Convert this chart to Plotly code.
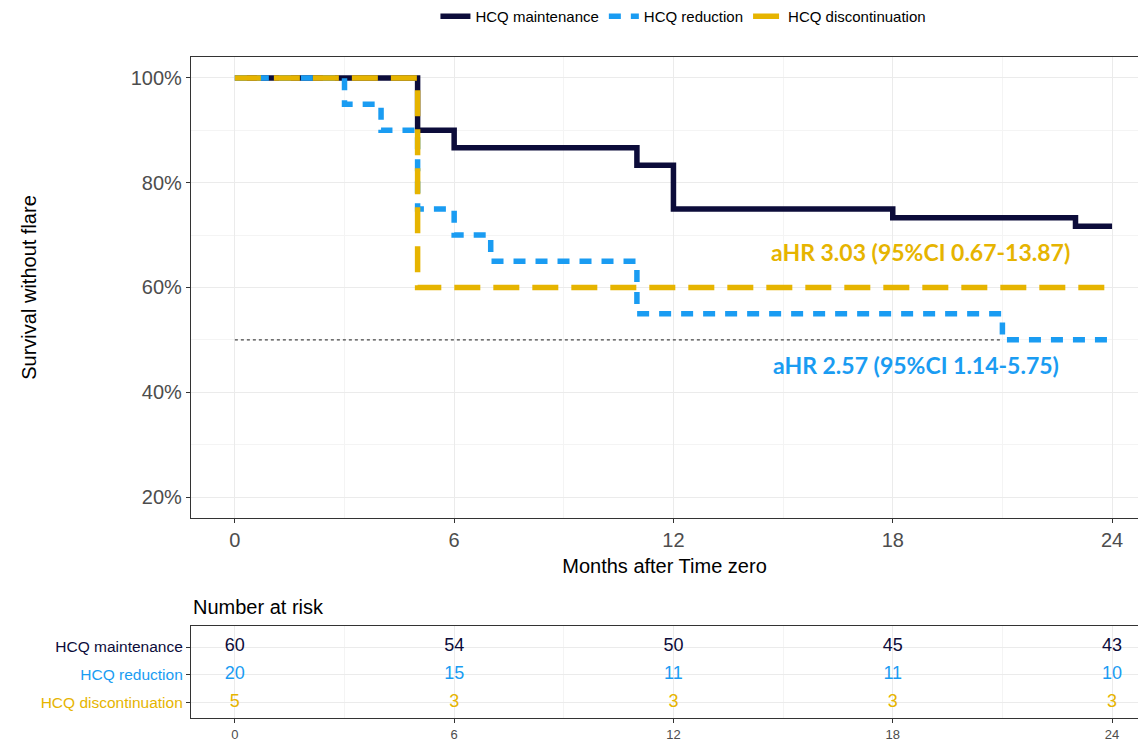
import plotly.graph_objects as go

# ---------------- data ----------------
groups = ["HCQ maintenance", "HCQ reduction", "HCQ discontinuation"]
colors = ["#0c0c3a", "#1a9cf2", "#e6b400"]

maint_times = [0, 5, 6, 11, 12, 18, 23, 24]
maint_surv = [1.0, 0.90, 0.8667, 0.8333, 0.75, 0.7333, 0.7167, 0.7167]

reduction_times = [0, 3, 4, 5, 6, 7, 11, 21, 24]
reduction_surv = [1.0, 0.95, 0.90, 0.75, 0.70, 0.65, 0.55, 0.50, 0.50]

discont_times = [0, 5, 24]
discont_surv = [1.0, 0.60, 0.60]

median_x = [0, 21]
median_y = [0.5, 0.5]

risk_times = [0, 6, 12, 18, 24]
risk_maint = [60, 54, 50, 45, 43]
risk_reduction = [20, 15, 11, 11, 10]
risk_discont = [5, 3, 3, 3, 3]

y_ticks = [0.2, 0.4, 0.6, 0.8, 1.0]
y_ticklabels = ["20%", "40%", "60%", "80%", "100%"]
x_ticks = [0, 6, 12, 18, 24]

hr_labels = ["aHR 3.03 (95%CI 0.67-13.87)", "aHR 2.57 (95%CI 1.14-5.75)"]
hr_pos_x = [18.77, 18.64]
hr_pos_y = [0.668, 0.452]

# ---------------- figure ----------------
fig = go.Figure()

series = [
    (maint_times, maint_surv, groups[0], colors[0], "solid"),
    (reduction_times, reduction_surv, groups[1], colors[1], "12px,10px"),
    (discont_times, discont_surv, groups[2], colors[2], "26px,13px"),
]
for t, s, name, col, dash in series:
    fig.add_trace(go.Scatter(
        x=t, y=s, mode="lines", name=name, line_shape="hv",
        line=dict(color=col, width=5.5, dash=dash),
        xaxis="x", yaxis="y",
    ))

fig.add_trace(go.Scatter(
    x=median_x, y=median_y, mode="lines", showlegend=False,
    line=dict(color="#444444", width=1.2, dash="3px,3px"),
    xaxis="x", yaxis="y",
))

# risk table numbers
risk_rows = [risk_maint, risk_reduction, risk_discont]
row_pos = [3, 2, 1]
for vals, rp, col in zip(risk_rows, row_pos, colors):
    fig.add_trace(go.Scatter(
        x=risk_times, y=[rp] * len(risk_times), mode="text",
        text=[str(v) for v in vals], showlegend=False,
        textfont=dict(family="Liberation Sans, Arial", size=18, color=col),
        xaxis="x2", yaxis="y2",
    ))

for lab, xx, yy, col in zip(hr_labels, hr_pos_x, hr_pos_y, [colors[2], colors[1]]):
    fig.add_annotation(
        x=xx, y=yy, xref="x", yref="y", text="<b>" + lab + "</b>",
        showarrow=False, font=dict(family="Lato, Open Sans", size=23, color=col),
    )

fig.add_annotation(
    x=0, y=0.168, xref="paper", yref="paper",
    text="Number at risk", showarrow=False, xanchor="left", yanchor="middle",
    font=dict(family="Liberation Sans, Arial", size=20, color="black"),
)

xrange = [-1.2, 24.71]
grid_major = "#ebebeb"
grid_minor = "#f4f4f4"

row_ticktext = [
    f"<span style='color:{colors[0]}'>{groups[0]}</span>",
    f"<span style='color:{colors[1]}'>{groups[1]}</span>",
    f"<span style='color:{colors[2]}'>{groups[2]}</span>",
]

fig.update_layout(
    width=1138, height=743,
    margin=dict(l=191, r=0, t=57, b=25),
    plot_bgcolor="white", paper_bgcolor="white",
    font=dict(family="Liberation Sans, Arial", color="black"),
    showlegend=True,
    legend=dict(
        orientation="h", x=0.52, xanchor="center", y=1.0, yanchor="top",
        yref="container", font=dict(size=15, color="black"),
        itemwidth=30, tracegroupgap=0,
    ),
    xaxis=dict(
        domain=[0, 1], range=xrange, tickvals=x_ticks, anchor="y",
        showgrid=True, gridcolor=grid_major, gridwidth=1.2,
        minor=dict(dtick=3, tick0=0, showgrid=True, gridcolor=grid_minor, gridwidth=0.8),
        showline=True, linecolor="#333333", linewidth=1.2, mirror=True,
        ticks="outside", ticklen=4, tickcolor="#333333",
        tickfont=dict(size=20, color="#4d4d4d"),
        title=dict(text="Months after Time zero", font=dict(size=20), standoff=8),
        zeroline=False,
    ),
    yaxis=dict(
        domain=[0.3026, 1.0], range=[0.16, 1.04], tickvals=y_ticks,
        ticktext=y_ticklabels, anchor="x",
        showgrid=True, gridcolor=grid_major, gridwidth=1.2,
        minor=dict(dtick=0.1, tick0=0, showgrid=True, gridcolor=grid_minor, gridwidth=0.8),
        showline=True, linecolor="#333333", linewidth=1.2, mirror=False,
        ticks="outside", ticklen=4, tickcolor="#333333",
        tickfont=dict(size=20, color="#4d4d4d"),
        title=dict(text="Survival without flare", font=dict(size=20), standoff=88),
        zeroline=False,
    ),
    xaxis2=dict(
        domain=[0, 1], range=xrange, tickvals=x_ticks, anchor="y2",
        showgrid=True, gridcolor=grid_major, gridwidth=1.2,
        minor=dict(dtick=3, tick0=0, showgrid=True, gridcolor=grid_minor, gridwidth=0.8),
        showline=True, linecolor="#333333", linewidth=1.2, mirror=True,
        ticks="outside", ticklen=4, tickcolor="#333333",
        tickfont=dict(size=13, color="#4d4d4d"),
        zeroline=False,
    ),
    yaxis2=dict(
        domain=[0, 0.139], range=[0.45, 3.75], tickvals=row_pos,
        ticktext=row_ticktext, anchor="x2",
        showgrid=True, gridcolor=grid_major, gridwidth=1.2,
        showline=True, linecolor="#333333", linewidth=1.2, mirror=False,
        ticks="outside", ticklen=4, tickcolor="#333333",
        tickfont=dict(size=15.5),
        zeroline=False,
    ),
)

fig.write_html("out.html")
